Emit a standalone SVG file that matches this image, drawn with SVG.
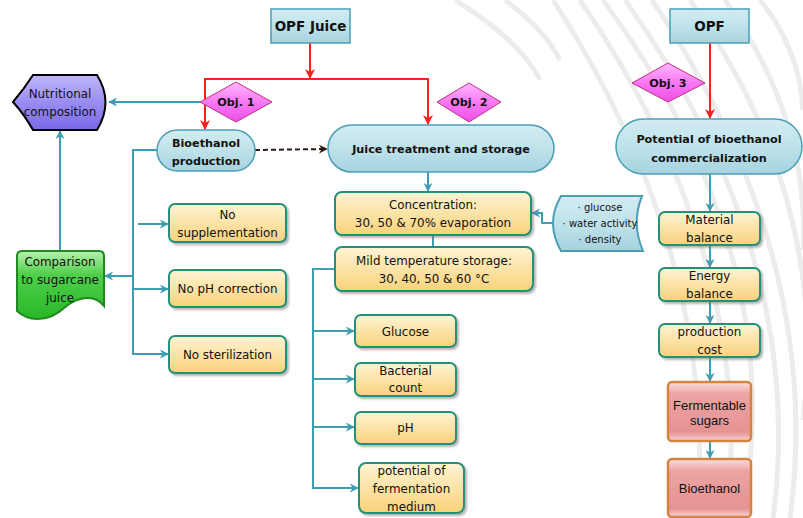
<svg xmlns="http://www.w3.org/2000/svg" width="803" height="518" viewBox="0 0 803 518">
<defs>
  <linearGradient id="gBlue" x1="0" y1="0" x2="0" y2="1">
    <stop offset="0" stop-color="#d2ecf2"/>
    <stop offset="0.5" stop-color="#bfe2ea"/>
    <stop offset="1" stop-color="#a6d3df"/>
  </linearGradient>
  <linearGradient id="gYellow" x1="0" y1="0" x2="0" y2="1">
    <stop offset="0" stop-color="#fff4d4"/>
    <stop offset="1" stop-color="#f8d27a"/>
  </linearGradient>
  <linearGradient id="gPinkD" x1="0" y1="0" x2="0" y2="1">
    <stop offset="0" stop-color="#ffb8ff"/>
    <stop offset="0.5" stop-color="#f978f5"/>
    <stop offset="1" stop-color="#ec4fe6"/>
  </linearGradient>
  <linearGradient id="gRed" x1="0" y1="0" x2="0" y2="1">
    <stop offset="0" stop-color="#fbe0e0"/>
    <stop offset="0.2" stop-color="#eda4a4"/>
    <stop offset="0.85" stop-color="#e69292"/>
    <stop offset="1" stop-color="#f8d4d4"/>
  </linearGradient>
  <linearGradient id="gPurple" x1="0" y1="0" x2="0" y2="1">
    <stop offset="0" stop-color="#c0b8fa"/>
    <stop offset="0.45" stop-color="#9d90f2"/>
    <stop offset="1" stop-color="#7a68e6"/>
  </linearGradient>
  <linearGradient id="gGreen" x1="0" y1="0" x2="0" y2="1">
    <stop offset="0" stop-color="#b6f0b0"/>
    <stop offset="0.35" stop-color="#4fcf4a"/>
    <stop offset="1" stop-color="#28b828"/>
  </linearGradient>
  <filter id="sh" x="-10%" y="-10%" width="125%" height="130%">
    <feDropShadow dx="2" dy="2" stdDeviation="1.3" flood-color="#777" flood-opacity="0.55"/>
  </filter>
  <marker id="aT" viewBox="0 0 10 10" refX="9" refY="5" markerWidth="9" markerHeight="9" markerUnits="userSpaceOnUse" orient="auto">
    <path d="M0,0 L10,5 L0,10 L3,5 Z" fill="#3f9db3"/>
  </marker>
  <marker id="aR" viewBox="0 0 10 10" refX="9" refY="5" markerWidth="10" markerHeight="10" markerUnits="userSpaceOnUse" orient="auto">
    <path d="M0,0 L10,5 L0,10 L3,5 Z" fill="#ff1e1e"/>
  </marker>
  <marker id="aD" viewBox="0 0 10 10" refX="9" refY="5" markerWidth="9" markerHeight="9" markerUnits="userSpaceOnUse" orient="auto">
    <path d="M0,0 L10,5 L0,10 L3,5 Z" fill="#2b1d14"/>
  </marker>
  <style>
    .t{font-family:"DejaVu Sans",sans-serif;font-size:11.9px;fill:#111;text-anchor:middle}
    .b{font-family:"DejaVu Sans",sans-serif;font-size:11.2px;font-weight:bold;fill:#111;text-anchor:middle}
    .h{font-family:"DejaVu Sans",sans-serif;font-size:13.5px;font-weight:bold;fill:#111;text-anchor:middle}
    .s{font-family:"DejaVu Sans",sans-serif;font-size:10px;fill:#111;text-anchor:middle}
    .a{font-family:"Liberation Sans",Arial,sans-serif;font-size:13px;fill:#111;text-anchor:middle}
    .blue{fill:url(#gBlue);stroke:#4a9fb5;stroke-width:1.5}
    .yel{fill:url(#gYellow);stroke:#23917a;stroke-width:2;filter:url(#sh)}
    .dia{fill:url(#gPinkD);stroke:#c0307a;stroke-width:1}
    .red{fill:url(#gRed);stroke:#d5843f;stroke-width:2.5}
    .c{fill:none;stroke:#3f9db3;stroke-width:2}
    .ca{fill:none;stroke:#3f9db3;stroke-width:2;marker-end:url(#aT)}
    .r{fill:none;stroke:#ff1e1e;stroke-width:2;marker-end:url(#aR)}
    .bg{fill:none;stroke:#ececec;stroke-width:5}
  </style>
</defs>
<rect width="803" height="518" fill="#ffffff"/>
<g id="background">
  <path class="bg" d="M553 0 Q719 257 697 518"/>
  <path class="bg" d="M580 0 Q756 257 727 518"/>
  <path class="bg" d="M603 0 Q792 257 742 518"/>
  <path class="bg" d="M625 0 Q808 257 773 518"/>
  <path class="bg" d="M652 0 Q825 257 790 518"/>
  <path class="bg" d="M690 0 Q830 200 803 420"/>
  <path class="bg" d="M725 0 Q810 120 803 250"/>
  <path class="bg" d="M760 0 Q800 50 803 110"/>
  <path class="bg" d="M455 0 Q520 40 540 80"/>
  <path class="bg" d="M505 0 Q545 30 560 60"/>
</g>
<g id="connectors">
  <path class="r" d="M310 43 V78"/>
  <path class="r" d="M310 79 H205 V129"/>
  <path class="r" d="M310 79 H428 V124"/>
  <path class="r" d="M710 43 V118"/>
  <path class="ca" d="M200 102 H109"/>
  <path class="ca" d="M60 251 V131"/>
  <path class="ca" d="M157 150 H133 V354 H168"/>
  <path class="ca" d="M133 289 H168"/>
  <path class="ca" d="M138 224 H168"/>
  <path class="ca" d="M133 276 H105"/>
  <path d="M255 150 L327 149" fill="none" stroke="#2b1d14" stroke-width="2" stroke-dasharray="5,3" marker-end="url(#aD)"/>
  <path class="ca" d="M428 172 V191"/>
  <path class="c" d="M433 235 V247"/>
  <path class="ca" d="M556 223 H542 V213 H532"/>
  <path class="ca" d="M335 269 H313 V488 H358"/>
  <path class="ca" d="M313 331 H354"/>
  <path class="ca" d="M313 379 H354"/>
  <path class="ca" d="M313 427 H354"/>
  <path class="ca" d="M710 174 V211"/>
  <path class="ca" d="M710 245 V267"/>
  <path class="ca" d="M710 301 V323"/>
  <path class="ca" d="M710 357 V381"/>
  <path class="ca" d="M710 441 V458"/>
</g>
<g id="opf-juice">
  <rect class="blue" x="271" y="9" width="79" height="34"/>
  <text class="h" x="310.5" y="31">OPF Juice</text>
</g>
<g id="opf">
  <rect class="blue" x="670" y="9" width="79" height="34"/>
  <text class="h" x="709.5" y="31">OPF</text>
</g>
<g id="obj1">
  <polygon class="dia" points="200,102 236,82 272,102 236,122"/>
  <text class="b" x="236" y="106" font-size="10.5">Obj. 1</text>
</g>
<g id="obj2">
  <polygon class="dia" points="437,102 469,83 501,102 469,122"/>
  <text class="b" x="469" y="106">Obj. 2</text>
</g>
<g id="obj3">
  <polygon class="dia" points="632,83 668,63 705,83 668,102"/>
  <text class="b" x="668" y="87">Obj. 3</text>
</g>
<g id="nutritional">
  <path d="M33 75 H97 Q114 102 97 130 H33 Q24 114 13 102 Q24 89 33 75 Z" fill="url(#gPurple)" stroke="#000" stroke-width="2"/>
  <text class="t" x="60" y="98">Nutritional</text>
  <text class="t" x="60" y="116">composition</text>
</g>
<g id="comparison">
  <path d="M17 256 Q17 251 22 251 H99 Q104 251 104 256 V306 C95 294 78 296 64 308 C50 321 30 323 17 311 Z" fill="url(#gGreen)" stroke="#1f8a1f" stroke-width="2"/>
  <text class="t" x="60" y="266">Comparison</text>
  <text class="t" x="60" y="284">to sugarcane</text>
  <text class="t" x="60" y="302">juice</text>
</g>
<g id="bioethanol-production">
  <rect class="blue" x="157" y="130" width="98" height="41" rx="20.5"/>
  <text class="b" x="206" y="147">Bioethanol</text>
  <text class="b" x="206" y="165">production</text>
</g>
<g id="juice-treatment">
  <rect class="blue" x="328" y="125" width="226" height="47" rx="23.5"/>
  <text class="b" x="441" y="153">Juice treatment and storage</text>
</g>
<g id="potential-commercialization">
  <rect class="blue" x="616" y="119" width="186" height="55" rx="27.5"/>
  <text class="b" x="709" y="143">Potential of bioethanol</text>
  <text class="b" x="709" y="162">commercialization</text>
</g>
<g id="no-supplementation">
  <rect class="yel" x="169" y="204" width="117" height="38" rx="6"/>
  <text class="t" x="227.5" y="219">No</text>
  <text class="t" x="227.5" y="237">supplementation</text>
</g>
<g id="no-ph-correction">
  <rect class="yel" x="169" y="270" width="117" height="37" rx="6"/>
  <text class="t" x="227.5" y="293">No pH correction</text>
</g>
<g id="no-sterilization">
  <rect class="yel" x="169" y="336" width="117" height="37" rx="6"/>
  <text class="t" x="227.5" y="359">No sterilization</text>
</g>
<g id="concentration">
  <rect class="yel" x="335" y="192" width="196" height="43" rx="7"/>
  <text class="t" x="433" y="209">Concentration:</text>
  <text class="t" x="433" y="227">30, 50 &amp; 70% evaporation</text>
</g>
<g id="measures">
  <path d="M561 196 H642 Q631 223 643 251 H561 Q545 223 561 196 Z" fill="url(#gBlue)" stroke="#4a9fb5" stroke-width="2"/>
  <text class="s" x="600" y="211">· glucose</text>
  <text class="s" x="600" y="227">· water activity</text>
  <text class="s" x="600" y="243">· density</text>
</g>
<g id="mild-storage">
  <rect class="yel" x="335" y="247" width="198" height="44" rx="7"/>
  <text class="t" x="434" y="265">Mild temperature storage:</text>
  <text class="t" x="434" y="283">30, 40, 50 &amp; 60 °C</text>
</g>
<g id="glucose">
  <rect class="yel" x="355" y="315" width="101" height="32" rx="6"/>
  <text class="t" x="405.5" y="336">Glucose</text>
</g>
<g id="bacterial-count">
  <rect class="yel" x="355" y="363" width="101" height="33" rx="6"/>
  <text class="t" x="405.5" y="375">Bacterial</text>
  <text class="t" x="405.5" y="392">count</text>
</g>
<g id="ph">
  <rect class="yel" x="355" y="412" width="101" height="32" rx="6"/>
  <text class="t" x="405.5" y="432">pH</text>
</g>
<g id="fermentation-potential">
  <rect class="yel" x="359" y="463" width="105" height="50" rx="7"/>
  <text class="t" x="411.5" y="475">potential of</text>
  <text class="t" x="411.5" y="493">fermentation</text>
  <text class="t" x="411.5" y="511">medium</text>
</g>
<g id="material-balance">
  <rect class="yel" x="659" y="212" width="101" height="33" rx="6"/>
  <text class="t" x="709.5" y="224">Material</text>
  <text class="t" x="709.5" y="242">balance</text>
</g>
<g id="energy-balance">
  <rect class="yel" x="659" y="268" width="101" height="33" rx="6"/>
  <text class="t" x="709.5" y="280">Energy</text>
  <text class="t" x="709.5" y="298">balance</text>
</g>
<g id="production-cost">
  <rect class="yel" x="659" y="324" width="101" height="33" rx="6"/>
  <text class="t" x="709.5" y="336">production</text>
  <text class="t" x="709.5" y="354">cost</text>
</g>
<g id="fermentable-sugars">
  <rect class="red" x="668" y="382" width="83" height="59" rx="4"/>
  <text class="a" x="709.5" y="410">Fermentable</text>
  <text class="a" x="709.5" y="425">sugars</text>
</g>
<g id="bioethanol">
  <rect class="red" x="668" y="459" width="83" height="58" rx="4"/>
  <text class="a" x="709.5" y="493">Bioethanol</text>
</g>
</svg>
